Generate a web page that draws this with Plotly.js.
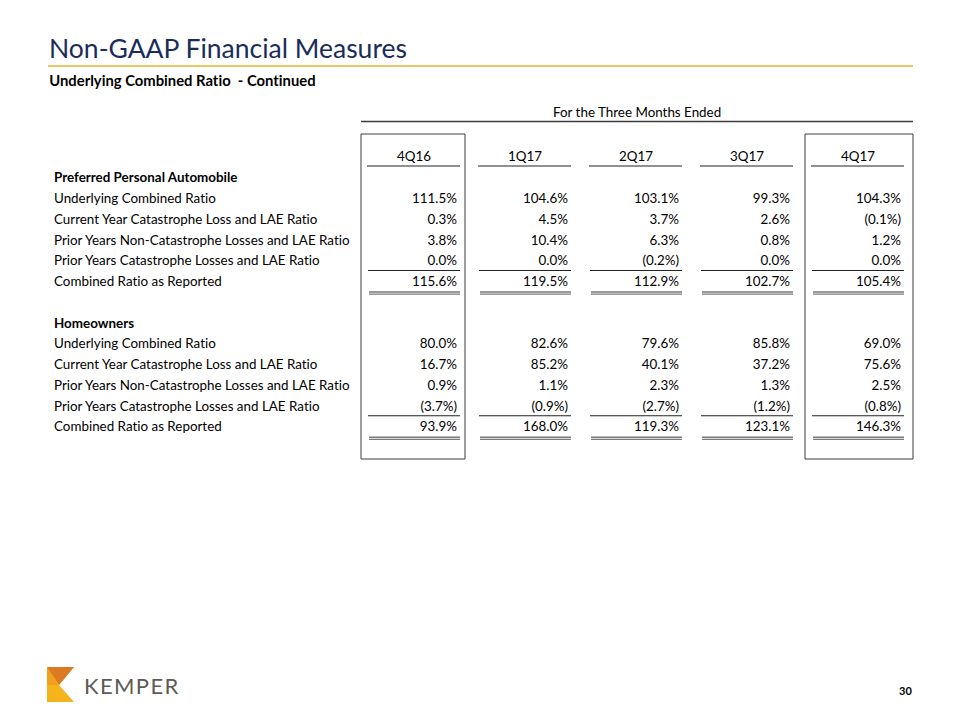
<!DOCTYPE html>
<html>
<head>
<meta charset="utf-8">
<script src="https://cdn.plot.ly/plotly-3.0.1.min.js"></script>
<style>
html,body{margin:0;padding:0;background:#fff;}
#chart{width:960px;height:720px;}
#chart text, #chart tspan{font-variant-ligatures:none !important; font-feature-settings:"liga" 0, "clig" 0, "dlig" 0 !important;}
</style>
</head>
<body>
<div id="chart"></div>
<script>
// ---------- data ----------
const quarters = ['4Q16', '1Q17', '2Q17', '3Q17', '4Q17'];
const sectionTitles = ['Preferred Personal Automobile', 'Homeowners'];
const rowLabels = [
  'Underlying Combined Ratio',
  'Current Year Catastrophe Loss and LAE Ratio',
  'Prior Years Non-Catastrophe Losses and LAE Ratio',
  'Prior Years Catastrophe Losses and LAE Ratio',
  'Combined Ratio as Reported'
];
const autoUnderlying   = [111.5, 104.6, 103.1, 99.3, 104.3];
const autoCurrentCat   = [0.3, 4.5, 3.7, 2.6, -0.1];
const autoPriorNonCat  = [3.8, 10.4, 6.3, 0.8, 1.2];
const autoPriorCat     = [0.0, 0.0, -0.2, 0.0, 0.0];
const autoCombined     = [115.6, 119.5, 112.9, 102.7, 105.4];
const homeUnderlying   = [80.0, 82.6, 79.6, 85.8, 69.0];
const homeCurrentCat   = [16.7, 85.2, 40.1, 37.2, 75.6];
const homePriorNonCat  = [0.9, 1.1, 2.3, 1.3, 2.5];
const homePriorCat     = [-3.7, -0.9, -2.7, -1.2, -0.8];
const homeCombined     = [93.9, 168.0, 119.3, 123.1, 146.3];
const periodHeader = 'For the Three Months Ended';
const pageTitle = 'Non-GAAP Financial Measures';
const pageSubtitle = 'Underlying Combined Ratio&nbsp; - Continued';
const pageNumber = '30';

// ---------- layout scale (column index / row index -> page) ----------
const W = 960, H = 720;
const X0 = 457, DX = 111;    // right edge of first value column, column pitch
const Y0 = 179, DY = 20.75;  // centre of first row, row pitch
const px2x = p => (p - X0) / DX;
const px2y = p => (p - Y0) / DY;
const FONT = 'Lato, "Open Sans", sans-serif';
const FS = 13.4;

const sections = [
  {start: 0, title: sectionTitles[0], series: [autoUnderlying, autoCurrentCat, autoPriorNonCat, autoPriorCat, autoCombined]},
  {start: 7, title: sectionTitles[1], series: [homeUnderlying, homeCurrentCat, homePriorNonCat, homePriorCat, homeCombined]}
];

const fmt = v => v < 0 ? '(' + Math.abs(v).toFixed(1) + '%)' : v.toFixed(1) + '%';
const cols = quarters.map((q, i) => i);

const traces = [];
const shapes = [];
const labelX = px2x(54);

sections.forEach(sec => {
  // section heading + row labels
  traces.push({
    type: 'scatter', mode: 'text',
    x: [labelX], y: [sec.start], text: ['<b>' + sec.title + '</b>'],
    textposition: 'middle right', textfont: {family: FONT, size: FS, color: '#000'},
    hoverinfo: 'skip', cliponaxis: false
  });
  traces.push({
    type: 'scatter', mode: 'text',
    x: rowLabels.map(() => labelX), y: rowLabels.map((l, k) => sec.start + 1 + k), text: rowLabels,
    textposition: 'middle right', textfont: {family: FONT, size: FS, color: '#000'},
    hoverinfo: 'skip', cliponaxis: false
  });
  // values
  sec.series.forEach((vals, k) => {
    const row = sec.start + 1 + k;
    traces.push({
      type: 'scatter', mode: 'text',
      x: cols, y: vals.map(() => row), text: vals.map(fmt),
      textposition: 'middle left', textfont: {family: FONT, size: FS, color: '#000'},
      hoverinfo: 'skip', cliponaxis: false
    });
  });
  // single rule under the last component row, double rule under the total
  const singleRow = sec.start + 4, totalRow = sec.start + 5;
  cols.forEach(i => {
    shapes.push({type: 'line', xref: 'x', yref: 'y', x0: i - 89 / DX, x1: i + 3 / DX,
      y0: singleRow + 8.5 / DY, y1: singleRow + 8.5 / DY, line: {color: '#222', width: 1}});
    [9.2, 11.4].forEach(off => shapes.push({type: 'line', xref: 'x', yref: 'y', x0: i - 88 / DX, x1: i + 3 / DX,
      y0: totalRow + off / DY, y1: totalRow + off / DY, line: {color: '#7a7a7a', width: 1.4}}));
  });
});

// column headers
const headerRow = px2y(157.5);
traces.push({
  type: 'scatter', mode: 'text',
  x: cols.map(i => i - 43 / DX), y: cols.map(() => headerRow), text: quarters,
  textposition: 'middle center', textfont: {family: FONT, size: FS, color: '#000'},
  hoverinfo: 'skip', cliponaxis: false
});
cols.forEach(i => {
  shapes.push({type: 'line', xref: 'x', yref: 'y', x0: i - 90 / DX, x1: i + 3 / DX,
    y0: px2y(166), y1: px2y(166), line: {color: '#222', width: 1}});
});

// boxes around first and last period
const boxTop = px2y(134), boxBot = px2y(459);
const leftBox = [0 - 96 / DX, 0 + 8 / DX];
const rightBox = [4 - 96 / DX, 4 + 12 / DX];
[leftBox, rightBox].forEach(b => shapes.push({type: 'rect', xref: 'x', yref: 'y',
  x0: b[0], x1: b[1], y0: boxTop, y1: boxBot, line: {color: '#3c3c3c', width: 1}, fillcolor: 'rgba(0,0,0,0)'}));
// rule under period header
shapes.push({type: 'line', xref: 'x', yref: 'y', x0: leftBox[0], x1: rightBox[1],
  y0: px2y(121.5), y1: px2y(121.5), line: {color: '#3c3c3c', width: 1.5}});

// gold rule under page title (paper coords)
const PX = p => p / W, PY = p => 1 - p / H;
shapes.push({type: 'line', xref: 'paper', yref: 'paper', x0: PX(48), x1: PX(913), y0: PY(66), y1: PY(66),
  line: {color: '#ECC662', width: 2}});

// logo mark
const poly = pts => 'M' + pts.map(p => PX(p[0]) + ',' + PY(p[1])).join(' L') + ' Z';
shapes.push({type: 'path', xref: 'paper', yref: 'paper',
  path: poly([[47, 667], [74, 667], [59, 685], [74, 702], [47, 702]]),
  fillcolor: '#F5B31C', line: {width: 0}});
shapes.push({type: 'path', xref: 'paper', yref: 'paper',
  path: poly([[47, 667], [74, 667], [59, 685]]),
  fillcolor: '#DC7A24', line: {width: 0}});
shapes.push({type: 'path', xref: 'paper', yref: 'paper',
  path: poly([[47, 667], [59, 685], [47, 685]]),
  fillcolor: '#F0A21E', line: {width: 0}});

const annotations = [
  {xref: 'paper', yref: 'paper', x: PX(47), y: PY(48), xanchor: 'left', yanchor: 'middle', showarrow: false,
    text: pageTitle, font: {family: FONT, size: 26.5, color: '#1A2C5B'}},
  {xref: 'paper', yref: 'paper', x: PX(47), y: PY(80), xanchor: 'left', yanchor: 'middle', showarrow: false,
    text: '<b>' + pageSubtitle + '</b>', font: {family: FONT, size: 14.8, color: '#000'}},
  {xref: 'x', yref: 'y', x: (leftBox[0] + rightBox[1]) / 2, y: px2y(112), xanchor: 'center', yanchor: 'middle', showarrow: false,
    text: periodHeader, font: {family: FONT, size: FS, color: '#000'}},
  {xref: 'paper', yref: 'paper', x: PX(82), y: PY(685), xanchor: 'left', yanchor: 'middle', showarrow: false,
    text: 'K\u200AE\u200AM\u200AP\u200AE\u200AR', font: {family: FONT, size: 22, color: '#5F5A55'}},
  {xref: 'paper', yref: 'paper', x: PX(914), y: PY(690), xanchor: 'right', yanchor: 'middle', showarrow: false,
    text: '<b>' + pageNumber + '</b>', font: {family: FONT, size: 11, color: '#000'}}
];

const layout = {
  width: W, height: H,
  margin: {l: 0, r: 0, t: 0, b: 0, pad: 0},
  paper_bgcolor: '#fff', plot_bgcolor: '#fff',
  showlegend: false,
  xaxis: {range: [px2x(0), px2x(W)], visible: false, showgrid: false, zeroline: false, fixedrange: true},
  yaxis: {range: [px2y(H), px2y(0)], visible: false, showgrid: false, zeroline: false, fixedrange: true},
  shapes: shapes,
  annotations: annotations,
  hovermode: false
};

Plotly.newPlot('chart', traces, layout, {displayModeBar: false, staticPlot: true});
</script>
</body>
</html>
